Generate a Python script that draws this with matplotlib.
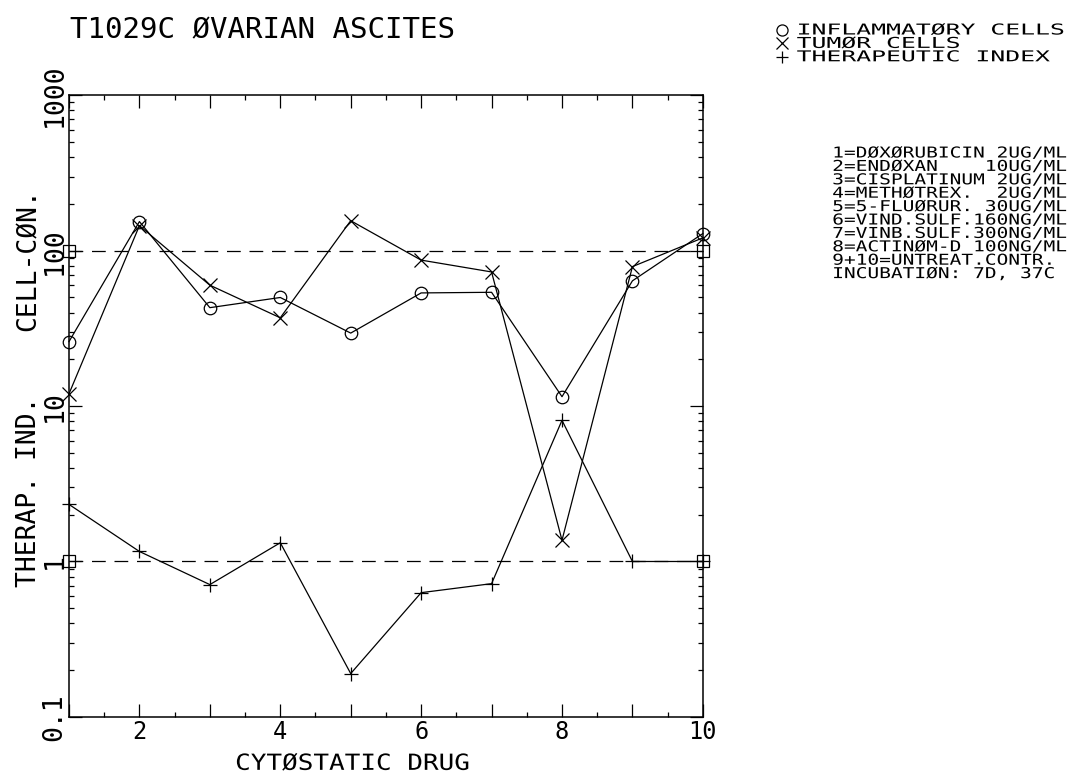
import numpy as np
import matplotlib
matplotlib.use("Agg")
import matplotlib.pyplot as plt
from matplotlib import patheffects as pe
from matplotlib.lines import Line2D
from matplotlib.ticker import FixedLocator, NullFormatter
from matplotlib.transforms import Affine2D

# values (cell concentrations in % of control)
drug = np.arange(1, 11)
inflammatory = [26, 154, 43, 50, 29.5, 53.5, 54, 11.5, 64, 129]
tumor = [12, 145, 60, 37, 156, 87, 73, 1.37, 79, 121]
therap_index = [2.33, 1.16, 0.71, 1.32, 0.19, 0.63, 0.72, 8.1, 1.0, 1.0]

ref_x = [1, 10]
ref_levels = [100, 1]

x_ticks = list(range(1, 11))
x_ticklabels = ["", "2", "", "4", "", "6", "", "8", "", "10"]
y_ticks = [0.1, 1, 10, 100, 1000]
y_ticklabels = ["0.1", "1", "10", "100", "1000"]

legend_labels = ["INFLAMMATØRY CELLS", "TUMØR CELLS", "THERAPEUTIC INDEX"]
legend_markers = ["o", "x", "+"]

drug_list = [
    "1=DØXØRUBICIN 2UG/ML",
    "2=ENDØXAN    10UG/ML",
    "3=CISPLATINUM 2UG/ML",
    "4=METHØTREX.  2UG/ML",
    "5=5-FLUØRUR. 30UG/ML",
    "6=VIND.SULF.160NG/ML",
    "7=VINB.SULF.300NG/ML",
    "8=ACTINØM-D 100NG/ML",
    "9+10=UNTREAT.CONTR.",
    "INCUBATIØN: 7D, 37C",
]


class Stretch(pe.AbstractPathEffect):
    # widen glyph spacing a bit, like the old pen plotter font
    def __init__(self, sx, about="left"):
        super().__init__()
        self.sx = sx
        self.about = about

    def draw_path(self, renderer, gc, tpath, affine, rgbFace=None):
        ext = tpath.get_extents()
        x0 = 0 if self.about == "left" else (ext.x0 + ext.x1) / 2
        t = Affine2D().translate(-x0, 0).scale(self.sx, 1).translate(x0, 0) + affine
        renderer.draw_path(gc, tpath, t, rgbFace)


plt.rcParams['font.family'] = ['DejaVu Sans Mono', 'DejaVu Sans']

fig = plt.figure(figsize=(10.78, 7.75), dpi=100)
ax = fig.add_axes([0.064, 0.075, 0.588, 0.802])

lw = 0.9
ax.plot(drug, inflammatory, '-', color='k', lw=lw, marker='o', mfc='none', ms=9, mew=0.9, clip_on=False)
ax.plot(drug, tumor, '-', color='k', lw=lw, marker='x', ms=10, mew=0.9, clip_on=False)
ax.plot(drug, therap_index, '-', color='k', lw=lw, marker='+', ms=10, mew=0.9, clip_on=False)
for lvl in ref_levels:
    ax.plot(ref_x, [lvl, lvl], color='k', lw=lw, dashes=(11, 7),
            marker='s', mfc='none', ms=9, mew=0.9, clip_on=False)

ax.set_yscale('log')
ax.set_xlim(1, 10)
ax.set_ylim(0.1, 1000)

ax.xaxis.set_major_locator(FixedLocator(x_ticks))
ax.set_xticklabels(x_ticklabels)
ax.xaxis.set_minor_locator(FixedLocator(np.arange(1.5, 10, 1.0)))
ax.yaxis.set_major_locator(FixedLocator(y_ticks))
ax.set_yticklabels(y_ticklabels)
minor_y = [m * 10.0 ** e for e in range(-1, 3) for m in range(2, 10)]
ax.yaxis.set_minor_locator(FixedLocator(minor_y))
ax.yaxis.set_minor_formatter(NullFormatter())

ax.tick_params(which='both', direction='in', top=True, right=True, width=0.9, color='k')
ax.tick_params(which='major', length=9.5)
ax.tick_params(which='minor', length=3.5)
ax.tick_params(axis='x', labelsize=17, pad=2)
ax.tick_params(axis='y', labelsize=19, pad=1, labelrotation=90)
for lab in ax.get_yticklabels():
    lab.set_verticalalignment('center')
for sp in ax.spines.values():
    sp.set_linewidth(1.1)

xl = fig.text(0.327, 0.0015, "CYTØSTATIC DRUG", fontsize=16, ha='center', va='bottom')
xl.set_path_effects([Stretch(1.17, about='center')])
fig.text(0.065, 0.961, "T1029C ØVARIAN ASCITES", fontsize=21, ha='left', va='center')
fig.text(0.027, 0.665, "CELL-CØN.", fontsize=19, rotation=90, ha='center', va='center')
fig.text(0.027, 0.365, "THERAP. IND.", fontsize=19, rotation=90, ha='center', va='center')

# marker legend
for i, (mk, lab) in enumerate(zip(legend_markers, legend_labels)):
    y = 1 - (30 + 13.4 * i) / 775
    fig.add_artist(Line2D([0.725], [y], transform=fig.transFigure, marker=mk,
                          mfc='none', color='k', ms=8, mew=0.9, ls='none'))
    t = fig.text(0.739, y, lab, fontsize=10.8, ha='left', va='center')
    t.set_path_effects([Stretch(1.65)])

# drug key
for i, line in enumerate(drug_list):
    t = fig.text(0.772, 1 - (153 + 13.4 * i) / 775, line, fontsize=10.8, ha='left', va='center')
    t.set_path_effects([Stretch(1.3)])

fig.savefig("out.png", dpi=100)
